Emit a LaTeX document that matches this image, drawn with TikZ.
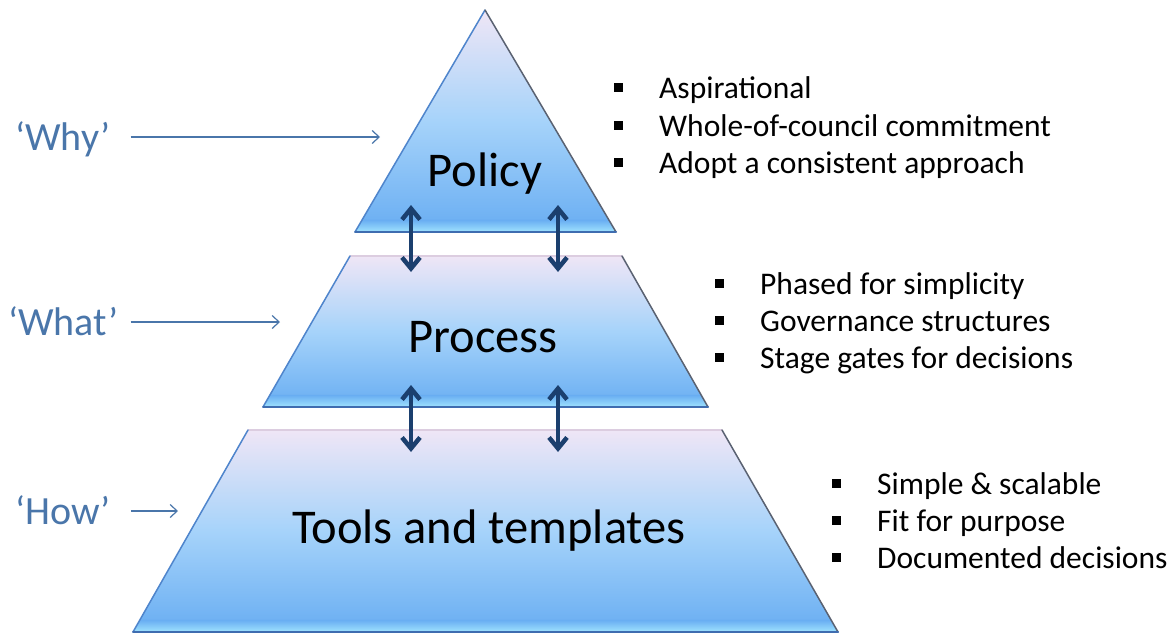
\documentclass[tikz,border=0pt]{standalone}
\usepackage{fontspec}
\setmainfont{Carlito}
\usetikzlibrary{arrows.meta,calc,positioning}

\definecolor{lavtop}{HTML}{EFE6F6}
\definecolor{bluemid}{HTML}{A6D3FA}
\definecolor{bluelow}{HTML}{68ADF2}
\definecolor{bevel}{HTML}{A0E3FE}
\definecolor{rim}{HTML}{4F85CC}
\definecolor{rimdark}{HTML}{3F6DB0}
\definecolor{rimgray}{HTML}{5A6272}
\definecolor{rimpale}{HTML}{DCCDE0}
\definecolor{navy}{HTML}{1B3F6E}
\definecolor{steel}{HTML}{4A76AA}

\newcommand{\bul}{\makebox[45pt][l]{\raisebox{6pt}{\rule{9pt}{9pt}}}}

\tikzset{
  layer/.style={top color=lavtop,bottom color=bluelow,middle color=bluemid},
  bevelstrip/.style={top color=bluelow,bottom color=bevel},
  rimleft/.style={draw=rim,line width=1.5,line cap=round},
  rimright/.style={draw=rimgray,line width=1.5,line cap=round},
  rimbase/.style={draw=rimdark,line width=2,line cap=round},
  rimtop/.style={draw=rimpale,line width=1.5,line cap=round},
  title/.style={font=\fontsize{48.5}{58}\selectfont,anchor=base,inner sep=0},
  askword/.style={font=\fontsize{40}{48}\selectfont,text=steel,anchor=base west,inner sep=0},
  point/.style={font=\fontsize{31.5}{38}\selectfont,anchor=base west,inner sep=0},
  link/.style={<->,>={Straight Barb[length=11,width=18]},line width=4.5pt,navy},
  pointer/.style={->,>={Straight Barb[length=7,width=13]},line width=1.2pt,steel}
}

\begin{document}
\begin{tikzpicture}[x=1pt,y=-1pt]
  \useasboundingbox (0,0) rectangle (1173,637);

  % pyramid corners
  \coordinate (pol-top) at (485,10);
  \coordinate (pol-bl) at (355,232);
  \coordinate (pol-br) at (616,232);
  \coordinate (pro-tl) at (350,256);
  \coordinate (pro-tr) at (622,256);
  \coordinate (pro-bl) at (263,407);
  \coordinate (pro-br) at (708,407);
  \coordinate (too-tl) at (248,430);
  \coordinate (too-tr) at (722,430);
  \coordinate (too-bl) at (133,632);
  \coordinate (too-br) at (838,632);

  % top layer
  \shade[layer] (pol-top) -- (pol-br) -- (pol-bl) -- cycle;
  \shade[bevelstrip] ($(pol-bl)!0.055!(pol-top)$) -- ($(pol-br)!0.055!(pol-top)$)
  -- (pol-br) -- (pol-bl) -- cycle;
  \draw[rimleft] (pol-bl) -- (pol-top);
  \draw[rimright] (pol-top) -- (pol-br);
  \draw[rimbase] (pol-bl) -- (pol-br);

  % middle layer
  \shade[layer] (pro-tl) -- (pro-tr) -- (pro-br) -- (pro-bl) -- cycle;
  \shade[bevelstrip] ($(pro-bl)!0.08!(pro-tl)$) -- ($(pro-br)!0.08!(pro-tr)$)
  -- (pro-br) -- (pro-bl) -- cycle;
  \draw[rimtop] (pro-tl) -- (pro-tr);
  \draw[rimleft] (pro-bl) -- (pro-tl);
  \draw[rimright] (pro-tr) -- (pro-br);
  \draw[rimbase] (pro-bl) -- (pro-br);

  % bottom layer
  \shade[layer] (too-tl) -- (too-tr) -- (too-br) -- (too-bl) -- cycle;
  \shade[bevelstrip] ($(too-bl)!0.06!(too-tl)$) -- ($(too-br)!0.06!(too-tr)$)
  -- (too-br) -- (too-bl) -- cycle;
  \draw[rimtop] (too-tl) -- (too-tr);
  \draw[rimleft] (too-bl) -- (too-tl);
  \draw[rimright] (too-tr) -- (too-br);
  \draw[rimbase] (too-bl) -- (too-br);

  \node[title] at (485,186) (Policy) {Policy};
  \node[title] at (483,352) (Process) {Process};
  \node[title] at (489,543) (Tools) {Tools and templates};

  % links between layers
  \coordinate (pol-l) at (411,205);
  \coordinate (pol-r) at (558,205);
  \coordinate (pro-lu) at (411,272);
  \coordinate (pro-ru) at (558,272);
  \coordinate (pro-ld) at (411,385);
  \coordinate (pro-rd) at (558,385);
  \coordinate (too-l) at (411,452);
  \coordinate (too-r) at (558,452);
  \draw[link] (pol-l) -- (pro-lu);
  \draw[link] (pol-r) -- (pro-ru);
  \draw[link] (pro-ld) -- (too-l);
  \draw[link] (pro-rd) -- (too-r);

  % why / what / how
  \node[askword] at (15,150) (Why) {‘Why’};
  \node[askword] at (8,335) (What) {‘What’};
  \node[askword] at (15,524) (How) {‘How’};
  \coordinate (why-end) at (380,137);
  \coordinate (what-end) at (280,322);
  \coordinate (how-end) at (178,511);
  \draw[pointer] (why-end -| Why.east) ++(20,0) -- (why-end);
  \draw[pointer] (what-end -| What.east) ++(12,0) -- (what-end);
  \draw[pointer] (how-end -| How.east) ++(20,0) -- (how-end);

  % bullet points
  \node[point] at (614,98) (pol-a) {\bul Aspirational};
  \node[point] at (614,136) (pol-b) {\bul Whole-of-council commitment};
  \node[point] at (614,173) (pol-c) {\bul Adopt a consistent approach};
  \node[point] at (715,294) (pro-a) {\bul Phased for simplicity};
  \node[point] at (715,331) (pro-b) {\bul Governance structures};
  \node[point] at (715,368) (pro-c) {\bul Stage gates for decisions};
  \node[point] at (832,494) (too-a) {\bul Simple \& scalable};
  \node[point] at (832,531) (too-b) {\bul Fit for purpose};
  \node[point] at (832,568) (too-c) {\bul Documented decisions};
\end{tikzpicture}
\end{document}
